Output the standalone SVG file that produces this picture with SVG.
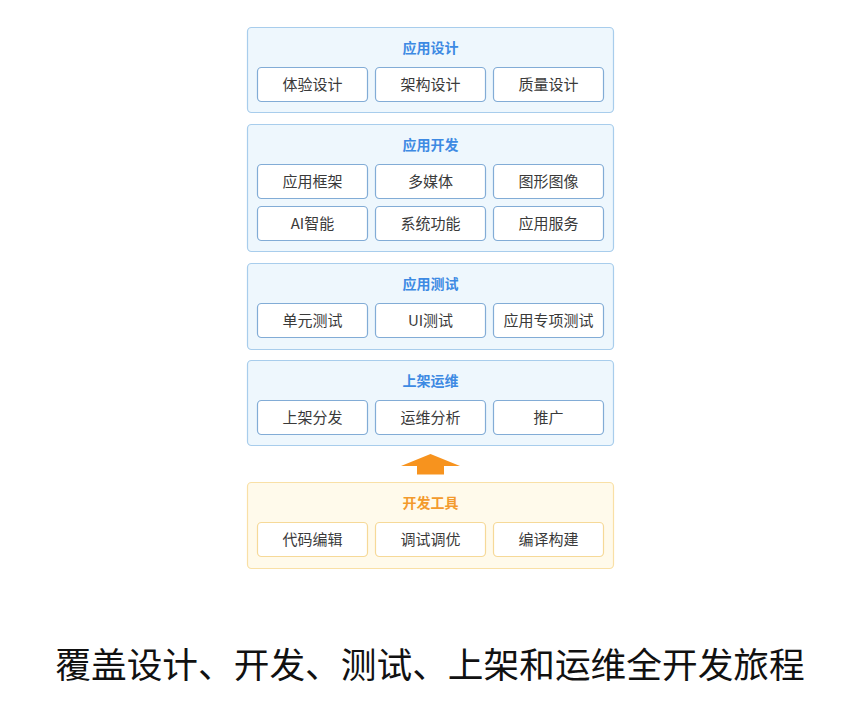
<svg xmlns="http://www.w3.org/2000/svg" width="849" height="708" viewBox="0 0 849 708">
<style>
.ob{fill:#eef7fd;stroke:#a8cdec;stroke-width:1.2}
.ib{fill:#ffffff;stroke:#82acd6;stroke-width:1.2}
.oo{fill:#fffaeb;stroke:#f9e0a6;stroke-width:1.2}
.io{fill:#ffffff;stroke:#f6d998;stroke-width:1.2}
.t{font-family:"Noto Sans CJK SC","Noto Sans",sans-serif;font-size:14px;font-weight:bold;text-anchor:middle}
.tb{fill:#3d8ae3}
.to{fill:#f39a2d}
.l{font-family:"Noto Sans CJK SC","Noto Sans",sans-serif;font-size:15px;fill:#3a3a3a;text-anchor:middle}
.big{font-family:"Noto Sans CJK SC","Noto Sans",sans-serif;font-size:35.7px;fill:#111;text-anchor:middle}
</style>
<rect width="849" height="708" fill="#ffffff"/>
<g id="design">
<rect class="ob" x="247.5" y="27.5" width="366" height="85" rx="4"/>
<text class="t tb" x="430.5" y="53">应用设计</text>
<rect class="ib" x="257.5" y="67.5" width="110" height="34" rx="4"/><text class="l" x="312.5" y="90">体验设计</text>
<rect class="ib" x="375.5" y="67.5" width="110" height="34" rx="4"/><text class="l" x="430.5" y="90">架构设计</text>
<rect class="ib" x="493.5" y="67.5" width="110" height="34" rx="4"/><text class="l" x="548.5" y="90">质量设计</text>
</g>
<g id="develop">
<rect class="ob" x="247.5" y="124.5" width="366" height="127" rx="4"/>
<text class="t tb" x="430.5" y="150">应用开发</text>
<rect class="ib" x="257.5" y="164.5" width="110" height="34" rx="4"/><text class="l" x="312.5" y="187">应用框架</text>
<rect class="ib" x="375.5" y="164.5" width="110" height="34" rx="4"/><text class="l" x="430.5" y="187">多媒体</text>
<rect class="ib" x="493.5" y="164.5" width="110" height="34" rx="4"/><text class="l" x="548.5" y="187">图形图像</text>
<rect class="ib" x="257.5" y="206.5" width="110" height="34" rx="4"/><text class="l" x="312.5" y="229">AI智能</text>
<rect class="ib" x="375.5" y="206.5" width="110" height="34" rx="4"/><text class="l" x="430.5" y="229">系统功能</text>
<rect class="ib" x="493.5" y="206.5" width="110" height="34" rx="4"/><text class="l" x="548.5" y="229">应用服务</text>
</g>
<g id="test">
<rect class="ob" x="247.5" y="263.5" width="366" height="86" rx="4"/>
<text class="t tb" x="430.5" y="289">应用测试</text>
<rect class="ib" x="257.5" y="303.5" width="110" height="34" rx="4"/><text class="l" x="312.5" y="326">单元测试</text>
<rect class="ib" x="375.5" y="303.5" width="110" height="34" rx="4"/><text class="l" x="430.5" y="326">UI测试</text>
<rect class="ib" x="493.5" y="303.5" width="110" height="34" rx="4"/><text class="l" x="548.5" y="326">应用专项测试</text>
</g>
<g id="ops">
<rect class="ob" x="247.5" y="360.5" width="366" height="85" rx="4"/>
<text class="t tb" x="430.5" y="386">上架运维</text>
<rect class="ib" x="257.5" y="400.5" width="110" height="34" rx="4"/><text class="l" x="312.5" y="423">上架分发</text>
<rect class="ib" x="375.5" y="400.5" width="110" height="34" rx="4"/><text class="l" x="430.5" y="423">运维分析</text>
<rect class="ib" x="493.5" y="400.5" width="110" height="34" rx="4"/><text class="l" x="548.5" y="423">推广</text>
</g>
<g id="connectors">
<polygon points="430.5,454 460,466 444,466 444,474.5 417,474.5 417,466 401,466" fill="#f7931e"/>
</g>
<g id="tools">
<rect class="oo" x="247.5" y="482.5" width="366" height="86" rx="4"/>
<text class="t to" x="430.5" y="508">开发工具</text>
<rect class="io" x="257.5" y="522.5" width="110" height="34" rx="4"/><text class="l" x="312.5" y="545">代码编辑</text>
<rect class="io" x="375.5" y="522.5" width="110" height="34" rx="4"/><text class="l" x="430.5" y="545">调试调优</text>
<rect class="io" x="493.5" y="522.5" width="110" height="34" rx="4"/><text class="l" x="548.5" y="545">编译构建</text>
</g>
<text class="big" x="430" y="678">覆盖设计、开发、测试、上架和运维全开发旅程</text>
</svg>
